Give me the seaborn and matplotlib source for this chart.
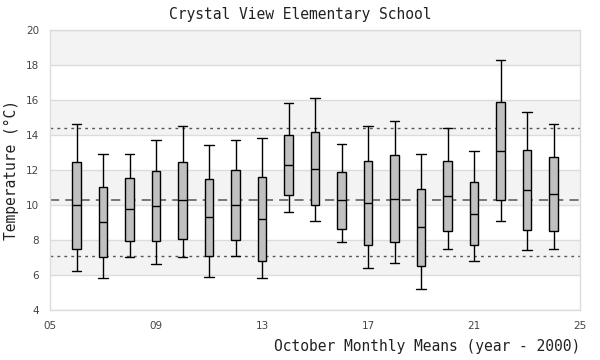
import numpy as np
import pandas as pd
import matplotlib
matplotlib.use("Agg")
import matplotlib.pyplot as plt
import seaborn as sns

# ---- data ----
years = list(range(6, 25))
whisker_low = [6.21, 5.81, 7.01, 6.61, 7.01, 5.87, 7.07, 5.81, 9.58, 9.07,
               7.87, 6.38, 6.67, 5.18, 7.47, 6.78, 9.07, 7.41, 7.47]
q1 = [7.47, 7.01, 7.92, 7.92, 8.04, 7.07, 7.98, 6.78, 10.55, 9.98,
      8.65, 7.70, 7.87, 6.50, 8.50, 7.70, 10.27, 8.55, 8.50]
median = [9.98, 9.01, 9.75, 9.92, 10.27, 9.30, 9.98, 9.18, 12.27, 12.04,
          10.27, 10.10, 10.32, 8.72, 10.50, 9.47, 13.07, 10.84, 10.61]
q3 = [12.44, 11.01, 11.52, 11.92, 12.44, 11.47, 11.98, 11.58, 13.98, 14.15,
      11.87, 12.50, 12.84, 10.90, 12.50, 11.30, 15.87, 13.12, 12.72]
whisker_high = [14.65, 12.90, 12.90, 13.70, 14.50, 13.41, 13.70, 13.81, 15.81, 16.10,
                13.47, 14.50, 14.78, 12.90, 14.38, 13.07, 18.27, 15.30, 14.61]
overall_mean = 10.27
upper_ref = 14.38
lower_ref = 7.07
x_ticks = [5, 9, 13, 17, 21, 25]
x_tick_labels = ["05", "09", "13", "17", "21", "25"]
y_ticks = [4, 6, 8, 10, 12, 14, 16, 18, 20]

rows = []
for i, yr in enumerate(years):
    for v in (whisker_low[i], q1[i], median[i], q3[i], whisker_high[i]):
        rows.append({"year": yr, "temp": v})
df = pd.DataFrame(rows)

sns.set_theme(style="white")
mono = ["DejaVu Sans Mono"]

fig = plt.figure(figsize=(6, 3.6), dpi=100)
ax = fig.add_axes([50 / 600, 1 - 310 / 360, 530 / 600, 280 / 360])

# alternating bands
for lo in range(4, 20, 2):
    if ((lo - 4) // 2) % 2 == 1:
        ax.axhspan(lo, lo + 2, color="#f3f3f3", zorder=0, lw=0)
for yv in y_ticks:
    ax.axhline(yv, color="#dcdcdc", lw=1, zorder=0.5)

box_w = 0.31
sns.boxplot(data=df, x="year", y="temp", native_scale=True, whis=(0, 100),
            width=box_w, color="#c0c0c0", linecolor="black", linewidth=1,
            showfliers=False, saturation=1, ax=ax,
            boxprops=dict(zorder=3), whiskerprops=dict(zorder=3),
            capprops=dict(zorder=3), medianprops=dict(zorder=3))

# widen caps slightly beyond the box width (styling)
for ln in ax.lines:
    xd = np.asarray(ln.get_xdata(), dtype=float)
    yd = np.asarray(ln.get_ydata(), dtype=float)
    if len(xd) == 2 and yd[0] == yd[1]:
        w = abs(xd[1] - xd[0])
        if 0 < w < 0.8 * box_w:
            c = xd.mean()
            half = 1.12 * box_w / 2
            ln.set_xdata([c - half, c + half])

ax.axhline(overall_mean, color="#555555", lw=1.1, ls=(0, (6, 4)), zorder=2)
ax.axhline(upper_ref, color="#555555", lw=1, ls=(0, (2, 3)), zorder=2)
ax.axhline(lower_ref, color="#555555", lw=1, ls=(0, (2, 3)), zorder=2)

ax.set_xlim(5, 25)
ax.set_ylim(4, 20)
ax.set_xticks(x_ticks)
ax.set_xticklabels(x_tick_labels)
ax.set_yticks(y_ticks)
ax.tick_params(axis="both", length=0, labelsize=7.5, colors="#444444", pad=8)
for s in ax.spines.values():
    s.set_color("#dcdcdc")
    s.set_linewidth(1)

ax.set_xlabel("")
ax.set_ylabel("Temperature (°C)", family=mono, fontsize=10.5, color="#222222")
ax.yaxis.set_label_coords((19 - 50) / 530, 0.5)
fig.text(300 / 600, 1 - 15 / 360, "Crystal View Elementary School", family=mono,
         fontsize=10.5, ha="center", va="center", color="#222222")
fig.text(580 / 600, 1 - 347 / 360, "October Monthly Means (year - 2000)", family=mono,
         fontsize=10.5, ha="right", va="center", color="#222222")

fig.savefig("out.png", dpi=100)
